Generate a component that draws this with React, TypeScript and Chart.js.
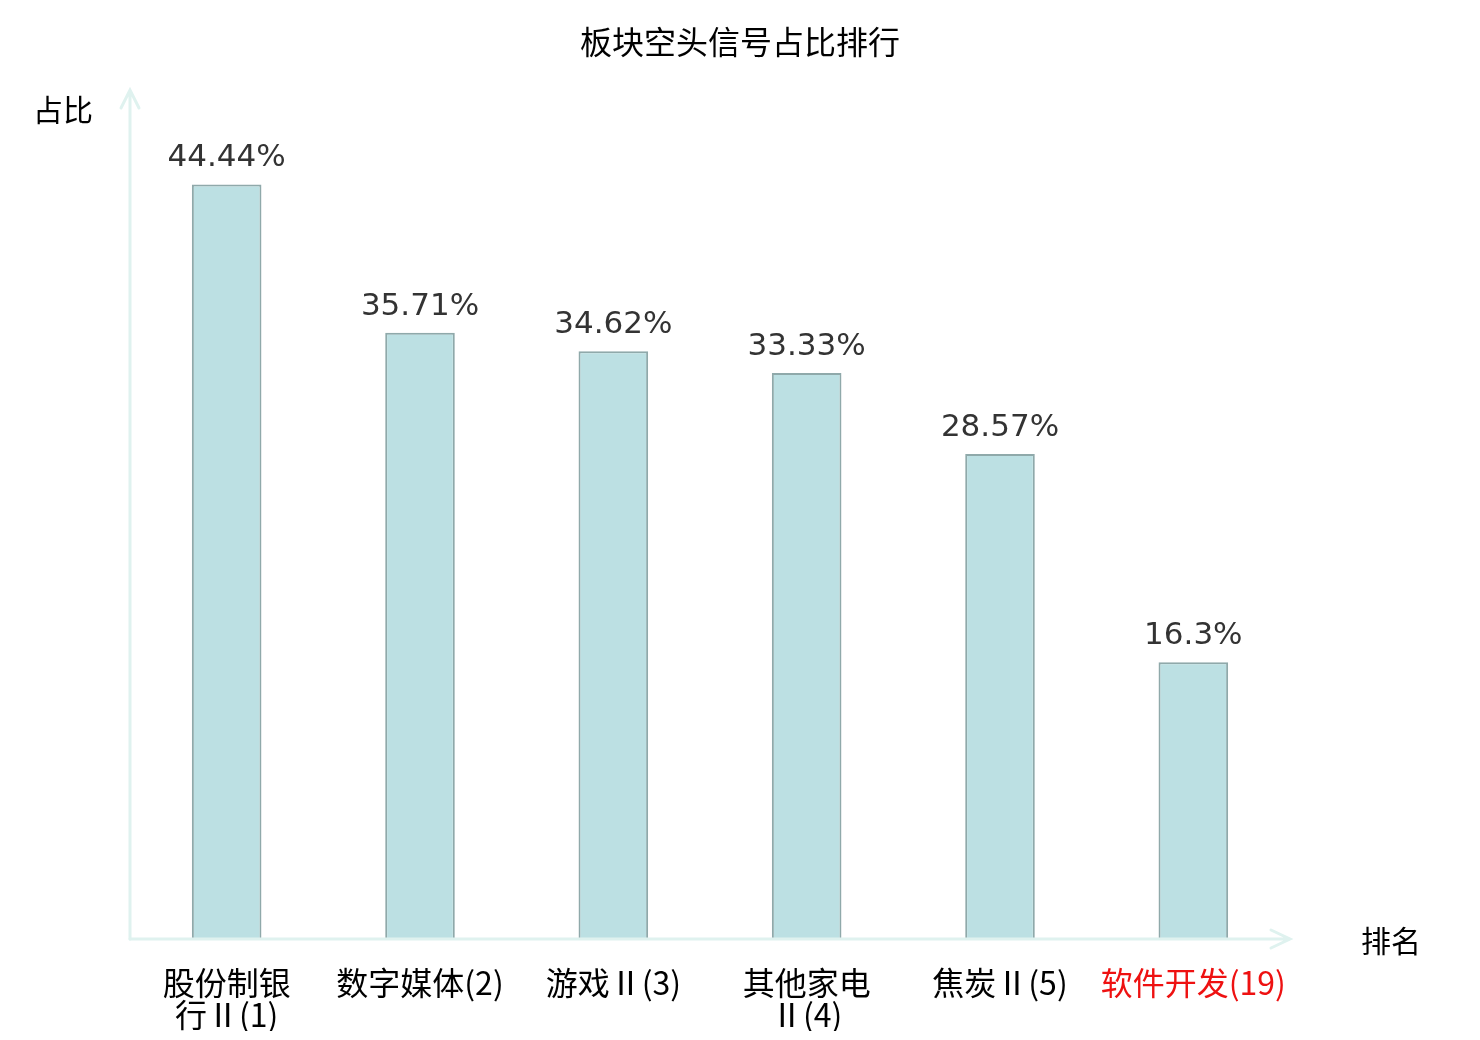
import React, { useEffect, useRef } from 'react';
import { Chart, registerables } from 'chart.js';

Chart.register(...registerables);

const categories = [
  ['股份制银', '行Ⅱ(1)'],
  ['数字媒体(2)'],
  ['游戏Ⅱ(3)'],
  ['其他家电', 'Ⅱ(4)'],
  ['焦炭Ⅱ(5)'],
  ['软件开发(19)'],
];
const shortRatio = [44.44, 35.71, 34.62, 33.33, 28.57, 16.3];
const valueLabels = ['44.44%', '35.71%', '34.62%', '33.33%', '28.57%', '16.3%'];
const highlightIndex = 5;
const chartTitle = '板块空头信号占比排行';

const CJK = '"Noto Sans CJK SC", "DejaVu Sans", sans-serif';
const AXIS_COLOR = '#dff2ef';

const axisPlugin = {
  id: 'axisDecor',
  afterDatasetsDraw(chart: any) {
    const { ctx, chartArea, width } = chart;
    const { left, right, top, bottom } = chartArea;
    ctx.save();
    ctx.strokeStyle = AXIS_COLOR;
    ctx.lineWidth = 3;
    ctx.lineCap = 'round';
    // y axis with arrow
    ctx.beginPath();
    ctx.moveTo(left, bottom);
    ctx.lineTo(left, top);
    ctx.moveTo(left - 9, top + 18);
    ctx.lineTo(left, top);
    ctx.lineTo(left + 9, top + 18);
    ctx.stroke();
    // x axis with arrow
    ctx.beginPath();
    ctx.moveTo(left, bottom);
    ctx.lineTo(right, bottom);
    ctx.moveTo(right - 19, bottom - 9);
    ctx.lineTo(right, bottom);
    ctx.lineTo(right - 19, bottom + 9);
    ctx.stroke();

    // title, centred on the whole canvas
    ctx.fillStyle = '#000';
    ctx.textAlign = 'center';
    ctx.textBaseline = 'middle';
    ctx.font = `32px ${CJK}`;
    ctx.fillText(chartTitle, width / 2, 42);

    // axis names
    ctx.font = `30px ${CJK}`;
    ctx.fillText('占比', left - 67, top + 20);
    ctx.fillText('排名', right + 101, bottom + 2);

    // value labels
    const meta = chart.getDatasetMeta(0);
    ctx.fillStyle = '#333';
    ctx.font = '31px "DejaVu Sans", sans-serif';
    ctx.textBaseline = 'alphabetic';
    meta.data.forEach((bar: any, i: number) => {
      ctx.fillText(valueLabels[i], bar.x, bar.y - 18);
    });
    ctx.restore();
  },
};

export default function App() {
  const ref = useRef<HTMLCanvasElement | null>(null);

  useEffect(() => {
    if (!ref.current) return;
    const chart = new Chart(ref.current, {
      type: 'bar',
      data: {
        labels: categories as any,
        datasets: [
          {
            data: shortRatio,
            backgroundColor: '#bce0e3',
            borderColor: '#8fa9aa',
            borderWidth: 2,
            barPercentage: 0.36,
            categoryPercentage: 1,
          },
        ],
      },
      options: {
        responsive: true,
        maintainAspectRatio: false,
        animation: false,
        layout: { padding: { left: 130, right: 190, top: 90, bottom: 9 } },
        plugins: {
          legend: { display: false },
          tooltip: { enabled: false },
          title: { display: false },
        },
        scales: {
          x: {
            grid: { display: false, drawTicks: false },
            border: { display: false },
            afterFit: (scale: any) => {
              scale.height = 92;
            },
            ticks: {
              padding: 28,
              maxRotation: 0,
              autoSkip: false,
              color: (c: any) => (c.index === highlightIndex ? '#ee1111' : '#000'),
              font: { size: 32, family: CJK, lineHeight: 1.0 },
            },
          },
          y: {
            display: false,
            min: 0,
            max: 50,
          },
        },
      },
      plugins: [axisPlugin],
    });
    return () => chart.destroy();
  }, []);

  return (
    <div style={{ position: 'absolute', left: 0, top: 0, width: 1480, height: 1040, background: '#fff' }}>
      <canvas ref={ref} />
    </div>
  );
}
